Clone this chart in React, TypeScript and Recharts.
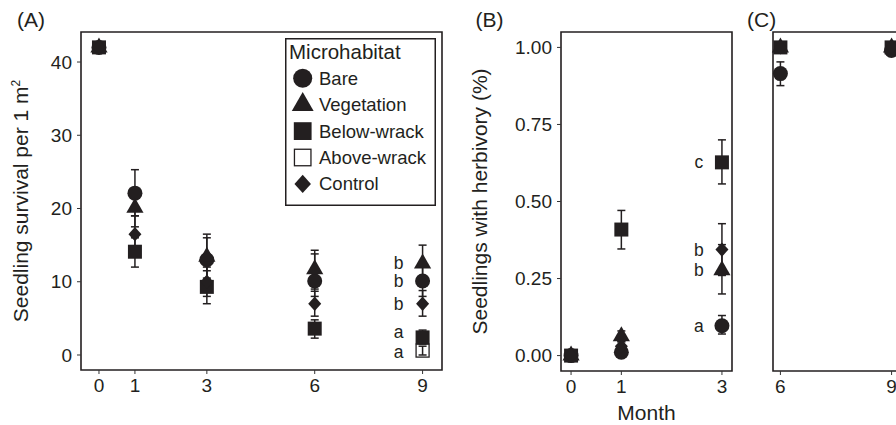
import React from "react";
import { ScatterChart, Scatter, XAxis, YAxis, ErrorBar, ReferenceArea, Legend, Label } from "recharts";

const INK = "#231f20";
const AXIS = "#333333";
const FONT = '"Liberation Sans", Arial, Helvetica, sans-serif';

// (A) seedling survival per 1 m2 by month
const monthsA = [0, 1, 3, 6, 9];
const bareA = [42, 22.1, 13.0, 10.1, 10.1];
const bareALo = [42, 19.0, 10.0, 8.0, 8.0];
const bareAHi = [42, 25.3, 16.0, 13.8, 12.2];
const vegA = [42, 20.1, 13.4, 11.7, 12.5];
const vegALo = [42, 17.5, 10.5, 9.0, 10.0];
const vegAHi = [42, 22.6, 16.5, 14.3, 15.0];
const belowA = [42, 14.1, 9.3, 3.6, 2.4];
const belowALo = [42, 12.0, 7.0, 2.3, 1.5];
const belowAHi = [42, 16.0, 11.5, 4.8, 3.4];
const aboveMonthsA = [9];
const aboveA = [0.6];
const aboveALo = [0];
const aboveAHi = [1.2];
const controlA = [42, 16.5, 10.0, 7.0, 7.0];
const controlALo = [42, 14.5, 8.0, 5.3, 5.3];
const controlAHi = [42, 19.0, 12.0, 8.7, 8.8];
const letterValsA = [12.6, 10.1, 7.0, 3.2, 0.4];
const lettersA = ["b", "b", "b", "a", "a"];
const xTicksA = [0, 1, 3, 6, 9];
const yTicksA = [0, 10, 20, 30, 40];

// (B) share of seedlings with herbivory, months 0-3
const monthsB = [0, 1, 3];
const bareB = [0, 0.011, 0.097];
const bareBLo = [0, 0.0, 0.07];
const bareBHi = [0, 0.02, 0.13];
const vegB = [0, 0.063, 0.277];
const vegBLo = [0, 0.045, 0.2];
const vegBHi = [0, 0.08, 0.36];
const belowB = [0, 0.409, 0.627];
const belowBLo = [0, 0.346, 0.557];
const belowBHi = [0, 0.471, 0.7];
const controlB = [0, 0.03, 0.344];
const controlBLo = [0, 0.02, 0.26];
const controlBHi = [0, 0.045, 0.428];
const letterValsB = [0.627, 0.344, 0.277, 0.097];
const lettersB = ["c", "b", "b", "a"];
const xTicksB = [0, 1, 3];

// (C) months 6-9
const monthsC = [6, 9];
const bareC = [0.915, 0.99];
const bareCLo = [0.876, 0.99];
const bareCHi = [0.953, 0.99];
const vegC = [1, 1];
const belowC = [1, 1];
const controlC = [1, 1];
const xTicksC = [6, 9];
const yTicksBC = [0, 0.25, 0.5, 0.75, 1];

const legendLabels = ["Bare", "Vegetation", "Below-wrack", "Above-wrack", "Control"];
const legendKinds = ["circle", "triangle", "square", "open", "diamond"];

const rows = (months: number[], mean: number[], lo: number[], hi: number[]) =>
  months.map((m, i) => ({ month: m, value: mean[i], err: [mean[i] - lo[i], hi[i] - mean[i]] }));
const letterRows = (month: number, vals: number[], txt: string[]) =>
  vals.map((v, i) => ({ month, value: v, letter: txt[i] }));

function drawMark(kind: string, cx: number, cy: number, k = 1) {
  switch (kind) {
    case "circle":
      return <circle cx={cx} cy={cy} r={7.5 * k} fill={INK} />;
    case "triangle": {
      const w = 8.6 * k, up = 10 * k, dn = 5 * k;
      return <polygon points={`${cx},${cy - up} ${cx + w},${cy + dn} ${cx - w},${cy + dn}`} fill={INK} />;
    }
    case "square": {
      const h = 7 * k;
      return <rect x={cx - h} y={cy - h} width={2 * h} height={2 * h} fill={INK} />;
    }
    case "open": {
      const h = 6.5 * k;
      return <rect x={cx - h} y={cy - h} width={2 * h} height={2 * h} fill="none" stroke={INK} strokeWidth={1.3} />;
    }
    default: {
      const w = 6.5 * k, h = 7.2 * k;
      return <polygon points={`${cx},${cy - h} ${cx + w},${cy} ${cx},${cy + h} ${cx - w},${cy}`} fill={INK} />;
    }
  }
}

const shapeOf = (kind: string) => (p: any) => drawMark(kind, p.cx, p.cy);

const letterShape = (dx: number) => (p: any) => (
  <text x={p.cx + dx} y={p.cy} textAnchor="middle" dominantBaseline="central" fontSize={17.5} fontFamily={FONT} fill={INK}>
    {p.payload?.letter}
  </text>
);

function LegendBox() {
  return (
    <svg width={151} height={168} style={{ display: "block" }}>
      <rect x={0.75} y={0.75} width={149.5} height={166.5} fill="#fff" stroke={INK} strokeWidth={1.5} />
      <text x={4} y={21} fontSize={20.5} fontFamily={FONT} fill={INK}>Microhabitat</text>
      {legendLabels.map((lab, i) => (
        <g key={lab}>
          {drawMark(legendKinds[i], 17.7, 40.3 + i * 26.4, 1.27)}
          <text x={34} y={40.3 + i * 26.4 + 6.5} fontSize={18.5} fontFamily={FONT} fill={INK}>{lab}</text>
        </g>
      ))}
    </svg>
  );
}

const yTitle = (lines: React.ReactNode, baseX: number) => (p: any) => {
  const vb = p.viewBox || { x: 0, y: 32, width: 80, height: 338 };
  const cy = vb.y + vb.height / 2;
  return (
    <text x={baseX} y={cy} transform={`rotate(-90, ${baseX}, ${cy})`} textAnchor="middle" fontSize={21} fontFamily={FONT} fill={INK}>
      {lines}
    </text>
  );
};

const tickStyle = { fill: INK, fontSize: 19, fontFamily: FONT };

type Series = { name: string; kind: string; data: any[] };

function Panel(props: {
  left: number; width: number; margin: any; yWidth: number;
  xDomain: number[]; yDomain: number[]; xTicks: number[]; yTicks: number[];
  yFmt?: (v: number) => string; showYLabels: boolean; series: Series[];
  letters?: any[]; letterDx?: number; yLabel?: any; xLabel?: string; legend?: boolean;
}) {
  const { left, width, margin, yWidth, xDomain, yDomain, xTicks, yTicks, yFmt, showYLabels, series } = props;
  return (
    <div style={{ position: "absolute", left, top: 0 }}>
      <ScatterChart width={width} height={425} margin={margin}>
        <XAxis
          type="number" dataKey="month" domain={xDomain} ticks={xTicks} height={30}
          axisLine={false} tickLine={{ stroke: AXIS }} tickSize={4} tickMargin={5} tick={tickStyle}
          interval={0}
        >
          {props.xLabel ? (
            <Label value={props.xLabel} position="bottom" offset={4} style={{ fontSize: 21, fontFamily: FONT, fill: INK }} />
          ) : null}
        </XAxis>
        <YAxis
          type="number" dataKey="value" domain={yDomain} ticks={yTicks} width={yWidth}
          axisLine={false} tickLine={{ stroke: AXIS }} tickSize={4} tickMargin={5}
          tick={showYLabels ? tickStyle : false} tickFormatter={yFmt} interval={0}
          label={props.yLabel}
        />
        <ReferenceArea x1={xDomain[0]} x2={xDomain[1]} y1={yDomain[0]} y2={yDomain[1]} fill="none" stroke={INK} strokeWidth={1.6} fillOpacity={0} />
        {series.map((s) => (
          <Scatter key={s.name} name={s.name} data={s.data} shape={shapeOf(s.kind)} isAnimationActive={false}>
            <ErrorBar dataKey="err" direction="y" width={4} strokeWidth={1.5} stroke={INK} />
          </Scatter>
        ))}
        {props.letters ? (
          <Scatter data={props.letters} shape={letterShape(props.letterDx || -24)} isAnimationActive={false} />
        ) : null}
        {props.legend ? (
          <Legend
            layout="vertical" align="center" verticalAlign="middle"
            wrapperStyle={{ position: "absolute", left: 285, top: 38, width: 151, height: 168 }}
            content={() => <LegendBox />}
          />
        ) : null}
      </ScatterChart>
    </div>
  );
}

export default function App() {
  const seriesA: Series[] = [
    { name: "Bare", kind: "circle", data: rows(monthsA, bareA, bareALo, bareAHi) },
    { name: "Vegetation", kind: "triangle", data: rows(monthsA, vegA, vegALo, vegAHi) },
    { name: "Below-wrack", kind: "square", data: rows(monthsA, belowA, belowALo, belowAHi) },
    { name: "Above-wrack", kind: "open", data: rows(aboveMonthsA, aboveA, aboveALo, aboveAHi) },
    { name: "Control", kind: "diamond", data: rows(monthsA, controlA, controlALo, controlAHi) },
  ];
  const seriesB: Series[] = [
    { name: "Bare", kind: "circle", data: rows(monthsB, bareB, bareBLo, bareBHi) },
    { name: "Vegetation", kind: "triangle", data: rows(monthsB, vegB, vegBLo, vegBHi) },
    { name: "Below-wrack", kind: "square", data: rows(monthsB, belowB, belowBLo, belowBHi) },
    { name: "Control", kind: "diamond", data: rows(monthsB, controlB, controlBLo, controlBHi) },
  ];
  const seriesC: Series[] = [
    { name: "Bare", kind: "circle", data: rows(monthsC, bareC, bareCLo, bareCHi) },
    { name: "Vegetation", kind: "triangle", data: rows(monthsC, vegC, vegC, vegC) },
    { name: "Below-wrack", kind: "square", data: rows(monthsC, belowC, belowC, belowC) },
    { name: "Control", kind: "diamond", data: rows(monthsC, controlC, controlC, controlC) },
  ];
  const fmt2 = (v: number) => v.toFixed(2);
  return (
    <div style={{ position: "absolute", left: 0, top: 0, width: 896, height: 425, overflow: "hidden", background: "#fff" }}>
      <Panel
        left={0} width={450} margin={{ top: 32, right: 8, bottom: 25, left: 0 }} yWidth={81}
        xDomain={[-0.5, 9.54]} yDomain={[-2.05, 44.1]} xTicks={xTicksA} yTicks={yTicksA}
        showYLabels series={seriesA} letters={letterRows(9, letterValsA, lettersA)} letterDx={-24}
        yLabel={yTitle(<>Seedling survival per 1 m<tspan fontSize={12} dy={-8}>2</tspan></>, 28)}
        legend
      />
      <Panel
        left={440} width={300} margin={{ top: 32, right: 8, bottom: 24, left: 0 }} yWidth={121}
        xDomain={[-0.2, 3.2]} yDomain={[-0.05, 1.05]} xTicks={xTicksB} yTicks={yTicksBC} yFmt={fmt2}
        showYLabels series={seriesB} letters={letterRows(3, letterValsB, lettersB)} letterDx={-23}
        yLabel={yTitle("Seedlings with herbivory (%)", 47)} xLabel="Month"
      />
      <Panel
        left={760} width={150} margin={{ top: 32, right: 11, bottom: 24, left: 0 }} yWidth={13}
        xDomain={[5.8, 9.2]} yDomain={[-0.05, 1.05]} xTicks={xTicksC} yTicks={yTicksBC}
        showYLabels={false} series={seriesC}
      />
      <svg width={896} height={40} style={{ position: "absolute", left: 0, top: 0, pointerEvents: "none" }}>
        <text x={17} y={27} fontSize={21} fontFamily={FONT} fill={INK}>(A)</text>
        <text x={475.5} y={27} fontSize={21} fontFamily={FONT} fill={INK}>(B)</text>
        <text x={747} y={27} fontSize={21} fontFamily={FONT} fill={INK}>(C)</text>
      </svg>
    </div>
  );
}
